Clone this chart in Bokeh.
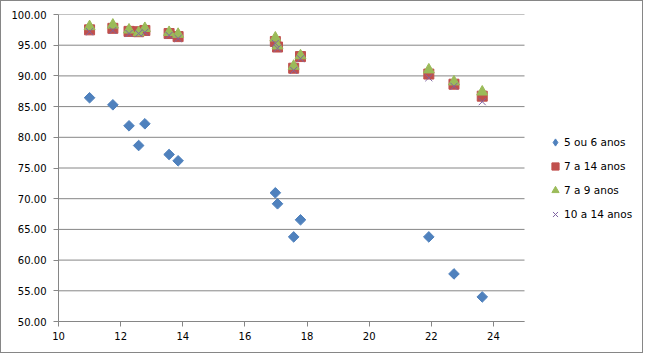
import math
from bokeh.plotting import figure
from bokeh.models import FixedTicker, PrintfTickFormatter, Legend, LegendItem, Range1d
from bokeh.embed import file_html
from bokeh.resources import INLINE

# Data
x_vals = [11.0, 11.75, 12.27, 12.58, 12.78, 13.56, 13.85, 16.98, 17.05, 17.57, 17.79, 21.92, 22.73, 23.64]
s_5ou6 = [86.44, 85.29, 81.87, 78.66, 82.2, 77.2, 76.17, 70.96, 69.17, 63.78, 66.56, 63.78, 57.75, 54.0]
s_7a14 = [97.5, 97.75, 97.25, 97.2, 97.4, 96.9, 96.4, 95.6, 94.7, 91.25, 93.15, 90.3, 88.65, 86.7]
s_7a9 = [98.05, 98.3, 97.5, 97.05, 97.75, 97.1, 96.8, 96.2, 94.9, 91.6, 93.3, 91.0, 89.05, 87.4]
s_10a14 = [97.2, 97.4, 96.9, 96.9, 97.1, 96.6, 96.1, 95.3, 94.5, 90.9, 92.8, 89.7, 88.3, 85.8]

series_names = ["5 ou 6 anos", "7 a 14 anos", "7 a 9 anos", "10 a 14 anos"]
y_ticks = [50, 55, 60, 65, 70, 75, 80, 85, 90, 95, 100]
x_ticks = [10, 12, 14, 16, 18, 20, 22, 24]
x_min, x_max = 10, 25
y_min, y_max = 50, 100

GRAY = "#868686"
FONT = "DejaVu Sans"

W, H = 643, 353
BL, BR, BT, BB = 57, 1, 13, 33
axis_px = 466  # pixel length of the 10..25 axis
frame_w = W - BL - BR
x_end = x_min + (x_max - x_min) * frame_w / axis_px

p = figure(width=W, height=H, output_backend="svg", toolbar_location=None,
           x_range=Range1d(x_min, x_end), y_range=Range1d(y_min, y_max),
           min_border_left=BL, min_border_right=BR, min_border_top=BT, min_border_bottom=BB)
p.styles = {"border": f"1px solid {GRAY}"}
p.outline_line_color = None
p.background_fill_color = "white"
p.border_fill_color = "white"

p.xgrid.grid_line_color = None
p.ygrid.grid_line_color = None
# horizontal gridlines spanning the axis extent only
p.segment(x0=[x_min] * len(y_ticks), x1=[x_max] * len(y_ticks), y0=y_ticks, y1=y_ticks,
          line_color=GRAY, line_width=1)

for ax in (p.xaxis[0], p.yaxis[0]):
    ax.axis_line_color = GRAY
    ax.major_tick_line_color = GRAY
    ax.major_tick_out = 5
    ax.major_tick_in = 0
    ax.minor_tick_line_color = None
    ax.major_label_text_font = FONT
    ax.major_label_text_font_size = "10px"
    ax.major_label_text_color = "#000000"

p.xaxis.bounds = (x_min, x_max)
p.xaxis.ticker = FixedTicker(ticks=x_ticks)
p.yaxis.ticker = FixedTicker(ticks=y_ticks)
p.yaxis.formatter = PrintfTickFormatter(format="%.2f")
p.yaxis.major_label_standoff = 7
p.xaxis.major_label_standoff = 5

r1 = p.scatter(x_vals, s_5ou6, marker="square", angle=math.pi / 4, size=7.5,
               fill_color="#4F81BD", line_color="#4F81BD")
r2 = p.scatter(x_vals, s_7a14, marker="square", size=10,
               fill_color="#C0504D", line_color="#C0504D")
r3 = p.scatter(x_vals, s_7a9, marker="triangle", size=11,
               fill_color="#9BBB59", line_color="#9BBB59")
r4 = p.scatter(x_vals, s_10a14, marker="x", size=10,
               line_color="#8064A2", line_width=1)

# legend-only diamond (legend glyphs are drawn unrotated); NaN point draws nothing on the plot
r1_leg = p.scatter([float("nan")], [float("nan")], marker="diamond",
                   fill_color="#4F81BD", line_color="#4F81BD")

legend = Legend(items=[LegendItem(label=n, renderers=[r]) for n, r in zip(series_names, [r1_leg, r2, r3, r4])],
                location=(488, 98))
legend.border_line_color = None
legend.background_fill_alpha = 0
legend.padding = 0
legend.margin = 0
legend.spacing = 6
legend.glyph_width = 18
legend.glyph_height = 18
legend.label_height = 18
legend.label_standoff = -3
legend.label_text_font = FONT
legend.label_text_font_size = "10.5px"
legend.label_text_color = "#000000"
p.add_layout(legend)

open("out.html", "w").write(file_html(p, INLINE))
